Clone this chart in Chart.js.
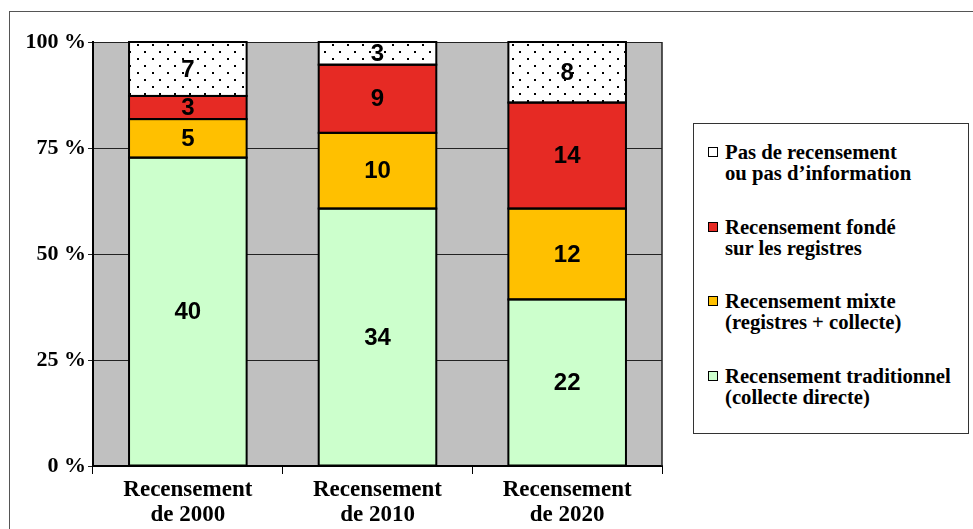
<!DOCTYPE html>
<html lang="fr">
<head>
<meta charset="utf-8">
<script src="https://cdn.jsdelivr.net/npm/chart.js@4.4.1/dist/chart.umd.min.js"></script>
<style>
  html, body { margin: 0; padding: 0; background: #fff; overflow: hidden; }
  #wrap { position: relative; width: 973px; height: 529px; }
  #cadre { position: absolute; left: 9px; top: 11px; width: 990px; height: 550px; border: 1px solid #555; }
  #graphique { position: absolute; left: 0; top: 0; }
  #legende {
    position: absolute; left: 693px; top: 123px; width: 276px; height: 311px;
    box-sizing: border-box; border: 1px solid #333; background: #fff;
    font-family: 'Liberation Serif', 'Times New Roman', serif; font-weight: bold;
    font-size: 20.7px; color: #000;
  }
  .item { position: absolute; left: 31px; line-height: 21px; white-space: nowrap; }
  .carre { position: absolute; left: -17px; top: 5px; width: 8px; height: 8px; border: 1.5px solid #000; }
</style>
</head>
<body>
<div id="wrap">
  <div id="cadre"></div>
  <canvas id="graphique" width="973" height="529"></canvas>
  <div id="legende"></div>
</div>
<script>
const categories = [['Recensement', 'de 2000'], ['Recensement', 'de 2010'], ['Recensement', 'de 2020']];

// du bas vers le haut de la pile
const series = [
  ['Recensement traditionnel', '(collecte directe)'],
  ['Recensement mixte', '(registres + collecte)'],
  ['Recensement fondé', 'sur les registres'],
  ['Pas de recensement', 'ou pas d\u2019information']
];

const traditionnel = [40, 34, 22];
const mixte = [5, 10, 12];
const registres = [3, 9, 14];
const aucun = [7, 3, 8];

const yTicks = [0, 25, 50, 75, 100];

const couleurs = ['#ccffcc', '#ffc000', '#e62a24', null];

// motif pointillé pour "pas de recensement"
function motifPoints() {
  const c = document.createElement('canvas');
  c.width = 15;
  c.height = 14;
  const g = c.getContext('2d');
  g.fillStyle = '#fff';
  g.fillRect(0, 0, 15, 14);
  g.fillStyle = '#000';
  g.fillRect(2, 2, 2, 2);
  g.fillRect(9, 9, 2, 2);
  return g.createPattern(c, 'repeat');
}

const comptes = [traditionnel, mixte, registres, aucun];
const totaux = categories.map((_, j) => comptes.reduce((s, a) => s + a[j], 0));

const ctx = document.getElementById('graphique').getContext('2d');
const motif = motifPoints();

const datasets = comptes.map((arr, i) => ({
  label: series[i].join(' '),
  data: arr.map((v, j) => v / totaux[j] * 100),
  comptes: arr,
  backgroundColor: couleurs[i] || motif,
  borderWidth: 0,
  barPercentage: 0.62,
  categoryPercentage: 1
}));

const fond = {
  id: 'fond',
  beforeDraw(chart) {
    const a = chart.chartArea;
    const c = chart.ctx;
    c.save();
    c.fillStyle = '#c0c0c0';
    c.fillRect(a.left, a.top, a.right - a.left, a.bottom - a.top);
    c.restore();
  },
  afterDatasetsDraw(chart) {
    const a = chart.chartArea;
    const c = chart.ctx;
    c.save();
    c.strokeStyle = '#222';
    c.lineWidth = 1.5;
    c.beginPath();
    c.moveTo(a.right, a.top);
    c.lineTo(a.right, a.bottom);
    c.stroke();
    // contours des segments, 2 px centrés sur les bords
    c.strokeStyle = '#000';
    c.lineWidth = 2;
    chart.data.datasets.forEach((ds, i) => {
      chart.getDatasetMeta(i).data.forEach(bar => {
        const p = bar.getProps(['x', 'y', 'base', 'width'], true);
        c.strokeRect(p.x - p.width / 2, p.y, p.width, p.base - p.y);
      });
    });
    c.restore();
  }
};

const etiquettes = {
  id: 'etiquettes',
  afterDatasetsDraw(chart) {
    const c = chart.ctx;
    c.save();
    c.font = 'bold 24px "Liberation Sans", Arial, sans-serif';
    c.fillStyle = '#000';
    c.textAlign = 'center';
    c.textBaseline = 'middle';
    chart.data.datasets.forEach((ds, i) => {
      chart.getDatasetMeta(i).data.forEach((bar, j) => {
        const p = bar.getProps(['x', 'y', 'base'], true);
        c.fillText(String(ds.comptes[j]), p.x, (p.y + p.base) / 2 + 1);
      });
    });
    c.restore();
  }
};

const policeY = { family: "'Liberation Serif', 'Times New Roman', serif", size: 22, weight: 'bold' };
const policeX = { family: "'Liberation Serif', 'Times New Roman', serif", size: 23, weight: 'bold', lineHeight: 1.1 };

new Chart(ctx, {
  type: 'bar',
  data: { labels: categories, datasets: datasets },
  options: {
    responsive: false,
    animation: false,
    layout: { padding: { left: 0, top: 42, right: 311, bottom: 0 } },
    plugins: {
      legend: { display: false },
      tooltip: { enabled: false }
    },
    scales: {
      x: {
        stacked: true,
        grid: { display: true, drawOnChartArea: false, drawTicks: true, tickLength: 8, color: '#000', offset: true },
        border: { color: '#000', width: 2 },
        ticks: { font: policeX, color: '#000', padding: 3, maxRotation: 0 },
        afterFit(s) { s.height = 63; }
      },
      y: {
        stacked: true,
        min: 0,
        max: 100,
        afterBuildTicks(s) { s.ticks = yTicks.map(v => ({ value: v })); },
        ticks: { font: policeY, color: '#000', padding: 2, callback: v => v + ' %' },
        grid: { color: '#222', lineWidth: 1, tickLength: 5, drawTicks: true },
        border: { color: '#000', width: 2 },
        afterFit(s) { s.width = 93; }
      }
    }
  },
  plugins: [fond, etiquettes]
});

// légende HTML, ordre inversé (haut de la pile en premier)
const legende = document.getElementById('legende');
const swatch = ['#ccffcc', '#ffc000', '#e62a24', '#fff'];
series.slice().reverse().forEach((lignes, k) => {
  const i = series.length - 1 - k;
  const item = document.createElement('div');
  item.className = 'item';
  item.style.top = (18 + 74.7 * k) + 'px';
  const carre = document.createElement('span');
  carre.className = 'carre';
  carre.style.background = swatch[i];
  item.appendChild(carre);
  item.appendChild(document.createTextNode(lignes[0]));
  item.appendChild(document.createElement('br'));
  item.appendChild(document.createTextNode(lignes[1]));
  legende.appendChild(item);
});
</script>
</body>
</html>
